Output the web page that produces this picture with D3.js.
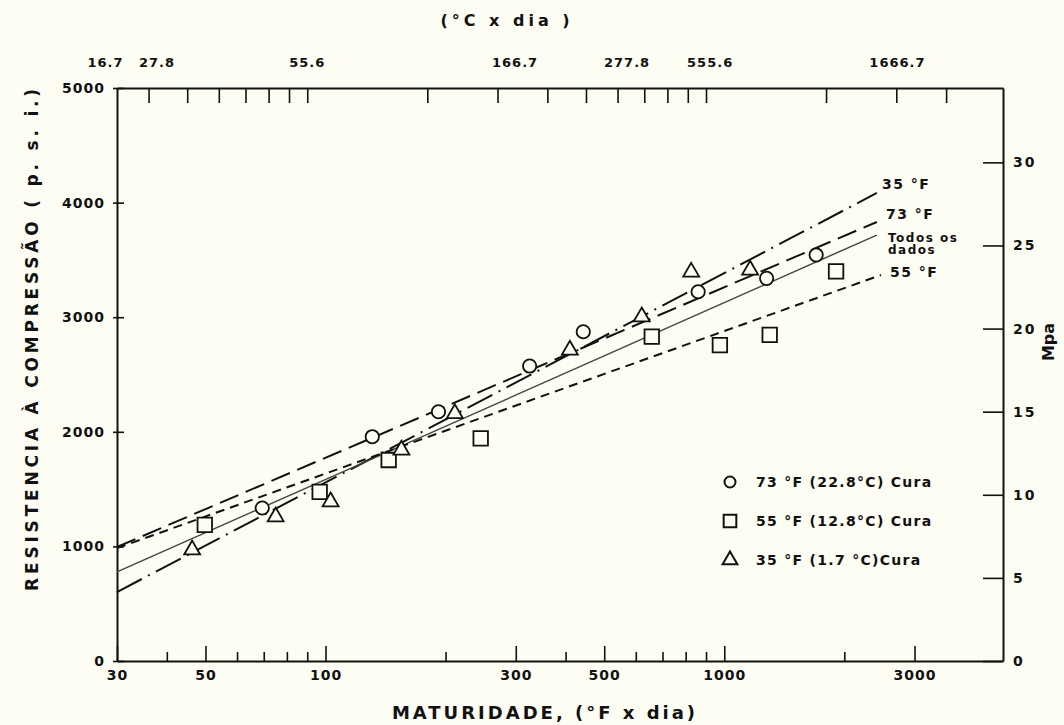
<!DOCTYPE html>
<html>
<head>
<meta charset="utf-8">
<script src="https://cdn.jsdelivr.net/npm/d3@7"></script>
<style>
  body { margin: 0; background: #fdfdf4; }
  svg { display: block; }
  text { font-family: "DejaVu Sans", sans-serif; font-weight: bold; fill: #111; }
  .tick text { font-size: 14px; letter-spacing: 1px; }
  .domain { stroke: #111; stroke-width: 2; }
  .tick line { stroke: #111; stroke-width: 1.6; }
</style>
</head>
<body>
<script>
// maturity (°F x dia) and strength (psi)
var circleF = [69.4, 131, 192, 325, 443, 860, 1277, 1700];
var circlePsi = [1335, 1957, 2175, 2574, 2873, 3222, 3339, 3543];
var squareF = [49.8, 96.7, 144, 245, 658, 975, 1300, 1907];
var squarePsi = [1187, 1475, 1754, 1943, 2830, 2757, 2845, 3400];
var triangleF = [46.3, 75, 103, 155, 211, 410, 621, 826, 1161];
var trianglePsi = [970, 1259, 1390, 1841, 2160, 2714, 3004, 3394, 3412];

// fitted lines: start / end in (°F x dia, psi)
var lineNames = ["35 °F", "73 °F", "Todos os dados", "55 °F"];
var lineStartF = [30, 30, 30, 30];
var lineStartPsi = [602, 995, 777, 985];
var lineEndF = [2413, 2413, 2413, 2472];
var lineEndPsi = [4084, 3831, 3717, 3368];

var bottomMajor = [30, 50, 100, 300, 500, 1000, 3000];
var bottomMinor = [40, 60, 70, 80, 90, 200, 400, 600, 700, 800, 900, 2000];
var topTicksC = [20, 25, 30, 35, 40, 45, 50, 100, 150, 200, 250, 300, 350, 400, 450, 500, 1000, 1500, 2000];
var topLabels = ["16.7", "27.8", "55.6", "166.7", "277.8", "555.6", "1666.7"];
var topLabelAtC = [15.6, 21, 50, 166, 317, 512, 1510];
var psiTicks = [0, 1000, 2000, 3000, 4000, 5000];
var mpaTicks = [0, 5, 10, 15, 20, 25, 30];

var legendLabels = ["73 °F (22.8°C) Cura", "55 °F (12.8°C) Cura", "35 °F (1.7 °C)Cura"];

var width = 1064, height = 725;
var plot = { left: 117, right: 1003, top: 88, bottom: 661 };

var svg = d3.select("body").append("svg")
  .attr("width", width)
  .attr("height", height);

var x = d3.scaleLog().domain([30, 5000]).range([plot.left, plot.right]);
var xC = d3.scaleLog().domain([30 * 5 / 9, 5000 * 5 / 9]).range([plot.left, plot.right]);
var y = d3.scaleLinear().domain([0, 5000]).range([plot.bottom, plot.top]);
var yMpa = d3.scaleLinear().domain([0, 5000 / 145.04]).range([plot.bottom, plot.top]);

// bottom axis, ticks pointing inward
svg.append("g")
  .attr("transform", "translate(0," + plot.bottom + ")")
  .call(d3.axisBottom(x).tickValues(bottomMinor).tickFormat("").tickSizeInner(-9).tickSizeOuter(0))
  .select(".domain").remove();
svg.append("g")
  .attr("transform", "translate(0," + plot.bottom + ")")
  .call(d3.axisBottom(x).tickValues(bottomMajor).tickFormat(d3.format("d")).tickSizeInner(-15).tickSizeOuter(0).tickPadding(9));

// top axis (°C x dia)
svg.append("g")
  .attr("transform", "translate(0," + plot.top + ")")
  .call(d3.axisTop(xC).tickValues(topTicksC).tickFormat("").tickSizeInner(-15).tickSizeOuter(0));
svg.append("g")
  .selectAll("text")
  .data(topLabels)
  .enter()
  .append("text")
  .attr("x", function (d, i) { return xC(topLabelAtC[i]); })
  .attr("y", 67)
  .attr("text-anchor", "middle")
  .style("font-size", "13px")
  .style("letter-spacing", "1px")
  .text(function (d) { return d; });

// left axis (psi)
svg.append("g")
  .attr("transform", "translate(" + plot.left + ",0)")
  .call(d3.axisLeft(y).tickValues(psiTicks).tickFormat(d3.format("d")).tickSizeInner(-7).tickSizeOuter(0).tickPadding(12))
  .selectAll(".tick line")
  .attr("x1", -4);

// right axis (MPa), ticks pointing inward
svg.append("g")
  .attr("transform", "translate(" + plot.right + ",0)")
  .call(d3.axisRight(yMpa).tickValues(mpaTicks).tickFormat(d3.format("d")).tickSizeInner(-20).tickSizeOuter(0).tickPadding(10))
  .selectAll(".tick text")
  .style("letter-spacing", "2px");

// fitted lines
var dashes = ["28,7,2,7", "20,8", "", "9,6"];
lineNames.forEach(function (name, i) {
  svg.append("line")
    .attr("x1", x(lineStartF[i]))
    .attr("y1", y(lineStartPsi[i]))
    .attr("x2", x(lineEndF[i]))
    .attr("y2", y(lineEndPsi[i]))
    .attr("stroke", i === 2 ? "#444" : "#111")
    .attr("stroke-width", i === 2 ? 1.4 : 2)
    .attr("stroke-dasharray", dashes[i]);
});

// line labels
var lineLabel = function (tx, ty, size, txt) {
  svg.append("text").attr("x", tx).attr("y", ty)
    .style("font-size", size + "px").style("letter-spacing", "1.5px")
    .text(txt);
};
lineLabel(882, 189, 14, "35  °F");
lineLabel(886, 219, 14, "73 °F");
lineLabel(888, 242, 12, "Todos  os");
lineLabel(888, 254, 12, "dados");
lineLabel(890, 277, 14, "55 °F");

// data markers
var markerStyle = function (sel) {
  sel.attr("fill", "#fdfdf4").attr("stroke", "#111").attr("stroke-width", 1.8);
};
var sym = {
  circle: d3.symbol().type(d3.symbolCircle).size(140),
  square: d3.symbol().type(d3.symbolSquare).size(210),
  triangle: d3.symbol().type(d3.symbolTriangle).size(110)
};

var pts = svg.append("g");
pts.selectAll(".circ").data(circleF).enter().append("path")
  .attr("d", sym.circle())
  .attr("transform", function (d, i) { return "translate(" + x(d) + "," + y(circlePsi[i]) + ")"; })
  .call(markerStyle);
pts.selectAll(".sq").data(squareF).enter().append("path")
  .attr("d", sym.square())
  .attr("transform", function (d, i) { return "translate(" + x(d) + "," + y(squarePsi[i]) + ")"; })
  .call(markerStyle);
pts.selectAll(".tri").data(triangleF).enter().append("path")
  .attr("d", sym.triangle())
  .attr("transform", function (d, i) { return "translate(" + x(d) + "," + y(trianglePsi[i]) + ")"; })
  .call(markerStyle);

// legend
var legendY = [482, 521, 560];
var legendSym = [
  d3.symbol().type(d3.symbolCircle).size(95),
  d3.symbol().type(d3.symbolSquare).size(160),
  d3.symbol().type(d3.symbolTriangle).size(95)
];
var legend = svg.append("g").attr("transform", "translate(730,0)");
legendLabels.forEach(function (label, i) {
  legend.append("path")
    .attr("d", legendSym[i]())
    .attr("transform", "translate(0," + legendY[i] + ")")
    .attr("fill", "none").attr("stroke", "#111").attr("stroke-width", 2);
  legend.append("text")
    .attr("x", 26)
    .attr("y", legendY[i] + 5)
    .style("font-size", "14px")
    .style("letter-spacing", "1.3px")
    .text(label);
});

// axis titles
svg.append("text")
  .attr("x", 507).attr("y", 26)
  .attr("text-anchor", "middle")
  .style("font-size", "16px")
  .style("letter-spacing", "4px")
  .text("(°C   x   dia )");

svg.append("text")
  .attr("x", 545).attr("y", 719)
  .attr("text-anchor", "middle")
  .style("font-size", "18px")
  .style("letter-spacing", "3px")
  .text("MATURIDADE,  (°F  x  dia)");

svg.append("text")
  .attr("transform", "translate(38,338) rotate(-90)")
  .attr("text-anchor", "middle")
  .style("font-size", "17px")
  .style("letter-spacing", "3.8px")
  .text("RESISTENCIA   À   COMPRESSÃO   ( p. s. i.)");

svg.append("text")
  .attr("transform", "translate(1054,342) rotate(-90)")
  .attr("text-anchor", "middle")
  .style("font-size", "16px")
  .text("Mpa");
</script>
</body>
</html>
